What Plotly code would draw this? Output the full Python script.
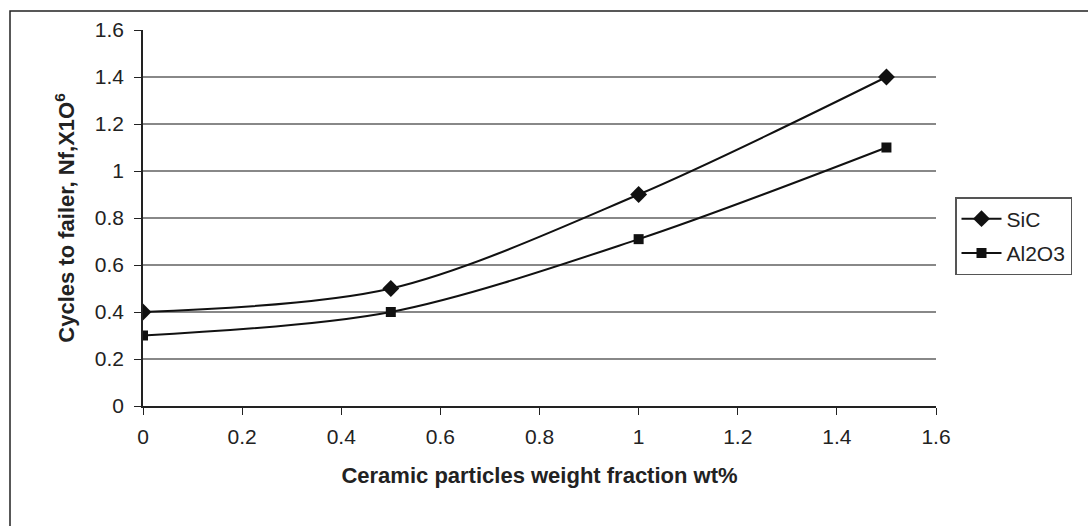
import plotly.graph_objects as go

x_wt = [0, 0.5, 1.0, 1.5]
sic = [0.40, 0.50, 0.90, 1.40]
al2o3 = [0.30, 0.40, 0.71, 1.10]
series_names = ["SiC", "Al2O3"]
x_ticks = [0, 0.2, 0.4, 0.6, 0.8, 1, 1.2, 1.4, 1.6]
y_ticks = [0, 0.2, 0.4, 0.6, 0.8, 1, 1.2, 1.4, 1.6]

FONT = "Liberation Sans, Arial, sans-serif"

fig = go.Figure()
fig.add_trace(go.Scatter(
    x=x_wt, y=sic, name=series_names[0], mode="lines+markers",
    line=dict(color="#111111", width=2, shape="spline", smoothing=0.9),
    marker=dict(symbol="diamond", size=13, color="#111111"),
    legendgroup="a"))
fig.add_trace(go.Scatter(
    x=x_wt, y=al2o3, name=series_names[1], mode="lines+markers",
    line=dict(color="#111111", width=2, shape="spline", smoothing=0.9),
    marker=dict(symbol="square", size=10, color="#111111"),
    legendgroup="b"))

fig.update_layout(
    width=1088, height=526,
    margin=dict(l=143, r=152, t=30, b=120, autoexpand=False),
    paper_bgcolor="white", plot_bgcolor="white",
    font=dict(family=FONT, size=21, color="#222222"),
    showlegend=True,
    legend=dict(
        x=(955 - 143) / 793, y=(406 - 197) / 376, xref="paper", yref="paper",
        xanchor="left", yanchor="top",
        bordercolor="#555555", borderwidth=1.5, bgcolor="white",
        font=dict(size=21, color="#222222"),
        traceorder="grouped", tracegroupgap=4,
        itemwidth=40,
    ),
    xaxis=dict(
        range=[0, 1.6], tickmode="array", tickvals=x_ticks,
        ticktext=[f"{v:g}" for v in x_ticks],
        showgrid=False, zeroline=False,
        showline=True, linecolor="#222222", linewidth=1.5,
        ticks="outside", ticklen=7, tickcolor="#222222", tickwidth=1.2,
        ticklabelstandoff=4,
        title=dict(text="<b>Ceramic particles weight fraction wt%</b>",
                   font=dict(size=22), standoff=21),
    ),
    yaxis=dict(
        range=[0, 1.6], tickmode="array", tickvals=y_ticks,
        ticktext=[f"{v:g}" for v in y_ticks],
        showgrid=True, gridcolor="#888888", gridwidth=1.5,
        zeroline=False,
        showline=True, linecolor="#222222", linewidth=1.5,
        ticks="outside", ticklen=7, tickcolor="#222222", tickwidth=1.2,
        ticklabelstandoff=6,
        title=dict(text="<b>Cycles to failer, Nf,X1O<sup>6</sup></b>",
                   font=dict(size=22), standoff=14),
    ),
    shapes=[dict(type="rect", xref="paper", yref="paper",
                 x0=(10 - 143) / 793, x1=2.0, y0=-1.0, y1=(406 - 11) / 376,
                 line=dict(color="#222222", width=1.5), layer="below")],
)

fig.write_html("out.html")
